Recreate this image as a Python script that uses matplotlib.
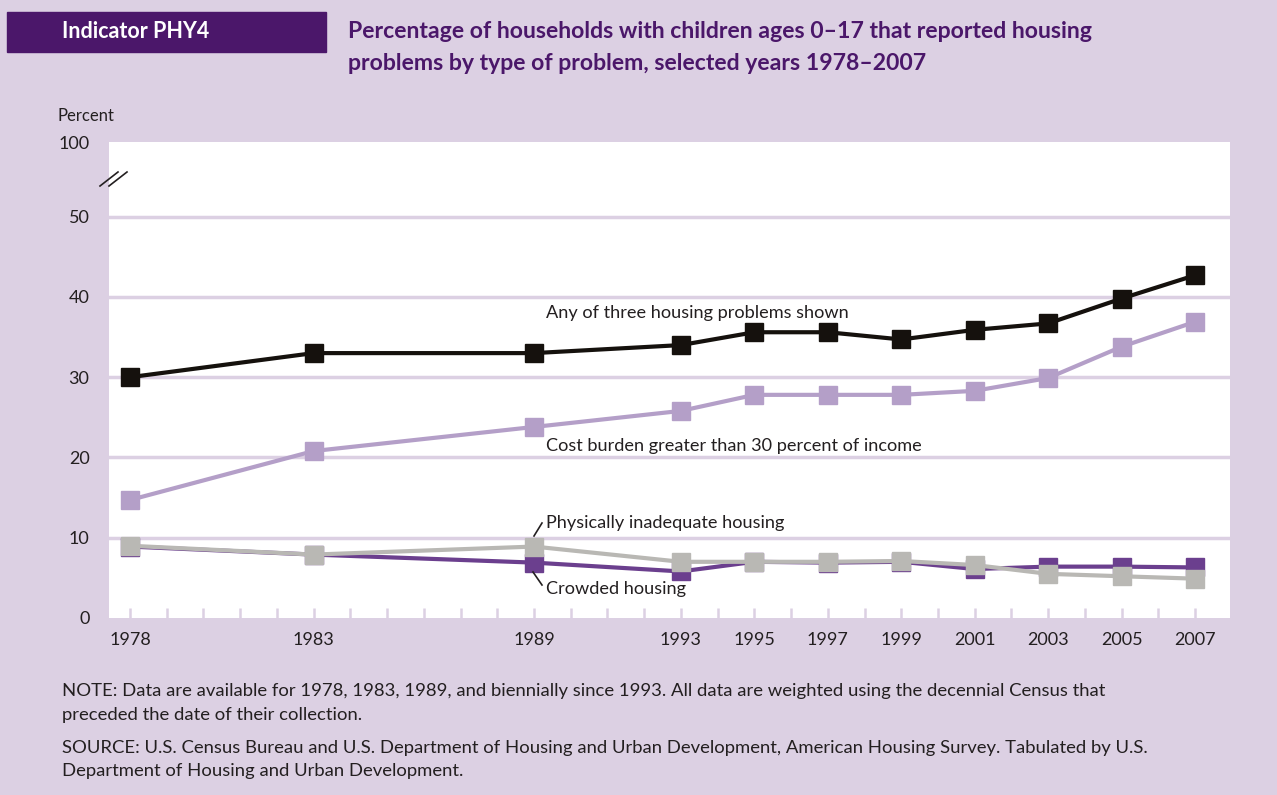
import matplotlib.pyplot as plt
from matplotlib.lines import Line2D

years = [1978, 1983, 1989, 1993, 1995, 1997, 1999, 2001, 2003, 2005, 2007]
any_problem = [30, 33, 33, 34, 35.6, 35.6, 34.7, 35.9, 36.7, 39.8, 42.7]
cost_burden = [14.7, 20.8, 23.8, 25.8, 27.8, 27.8, 27.8, 28.3, 29.9, 33.8, 36.9]
crowded = [8.9, 7.9, 6.9, 5.8, 7.0, 6.9, 7.0, 6.1, 6.4, 6.4, 6.3]
inadequate = [9.0, 7.9, 8.9, 7.0, 7.0, 7.0, 7.1, 6.6, 5.5, 5.2, 4.9]
ytick_vals = [0, 10, 20, 30, 40, 50, 59.3]
ytick_labels = ["0", "10", "20", "30", "40", "50", "100"]

W, H = 1277, 795
bg = "#dcd0e3"
purple_dark = "#4b176a"
txt = "#231f20"

plt.rcParams['font.family'] = ['Lato', 'DejaVu Sans']

fig = plt.figure(figsize=(W / 100, H / 100), dpi=100, facecolor=bg)


def px(x, y):
    return x / W, 1 - y / H


# plot area in pixels: left 109, right 1230, top 142, bottom 618
ax = fig.add_axes([109 / W, 1 - 618 / H, (1230 - 109) / W, (618 - 142) / H])
ax.set_facecolor("white")
for s in ax.spines.values():
    s.set_visible(False)

ax.set_xlim(1977.43, 2007.95)
ax.set_ylim(0, 59.3)

for g in [10, 20, 30, 40, 50]:
    ax.axhline(g, color=bg, lw=2.5, zorder=1)

ms = 13.5
lw = 3
ax.plot(years, crowded, color="#6b3f8e", lw=lw, marker="s", ms=ms, zorder=3)
ax.plot(years, inadequate, color="#b9b8b4", lw=lw, marker="s", ms=ms, zorder=4)
ax.plot(years, cost_burden, color="#b49fc8", lw=lw, marker="s", ms=ms, zorder=5)
ax.plot(years, any_problem, color="#15110d", lw=lw, marker="s", ms=ms, zorder=6)

ax.set_yticks(ytick_vals)
ax.set_yticklabels(ytick_labels)
ax.tick_params(axis="y", length=0, pad=14, labelsize=13, labelcolor=txt)

ax.set_xticks(years)
ax.set_xticklabels([str(y) for y in years])
ax.set_xticks(range(1978, 2008), minor=True)
ax.tick_params(axis="x", which="both", direction="in", length=7, width=1.8,
               color=bg, pad=10, labelsize=13, labelcolor=txt)

# axis break marks
for dx in [0, 9]:
    fig.add_artist(Line2D([(100 + dx) / W, (118 + dx) / W],
                          [1 - 186 / H, 1 - 172 / H], color=txt, lw=1.2))

# header
fig.add_artist(plt.Rectangle(px(7, 52), 319 / W, 40 / H, color=purple_dark))
fig.text(*px(62, 32), "Indicator PHY4", color="white", fontsize=15.5,
         fontweight="bold", va="center", ha="left")
fig.text(*px(348, 32), "Percentage of households with children ages 0\u201317 that reported housing",
         color=purple_dark, fontsize=16.6, fontweight="bold", va="center", ha="left")
fig.text(*px(348, 63), "problems by type of problem, selected years 1978\u20132007",
         color=purple_dark, fontsize=16.6, fontweight="bold", va="center", ha="left")

fig.text(*px(58, 116), "Percent", color=txt, fontsize=12, va="center", ha="left")

# series labels
fig.text(*px(546, 313), "Any of three housing problems shown", color=txt,
         fontsize=13.1, va="center", ha="left")
fig.text(*px(546, 446), "Cost burden greater than 30 percent of income", color=txt,
         fontsize=13.1, va="center", ha="left")
fig.text(*px(546, 523), "Physically inadequate housing", color=txt,
         fontsize=13.1, va="center", ha="left")
fig.text(*px(546, 589), "Crowded housing", color=txt,
         fontsize=13.1, va="center", ha="left")
fig.add_artist(Line2D([534 / W, 542 / W], [1 - 536 / H, 1 - 523 / H], color=txt, lw=1.2))
fig.add_artist(Line2D([533 / W, 542 / W], [1 - 572 / H, 1 - 585 / H], color=txt, lw=1.2))

# notes
notes = [
    (691, "NOTE: Data are available for 1978, 1983, 1989, and biennially since 1993. All data are weighted using the decennial Census that"),
    (715, "preceded the date of their collection."),
    (748, "SOURCE: U.S. Census Bureau and U.S. Department of Housing and Urban Development, American Housing Survey. Tabulated by U.S."),
    (771, "Department of Housing and Urban Development."),
]
for y, t in notes:
    fig.text(*px(62, y), t, color=txt, fontsize=13.3, va="center", ha="left")

fig.savefig("out.png", dpi=100, facecolor=bg)
